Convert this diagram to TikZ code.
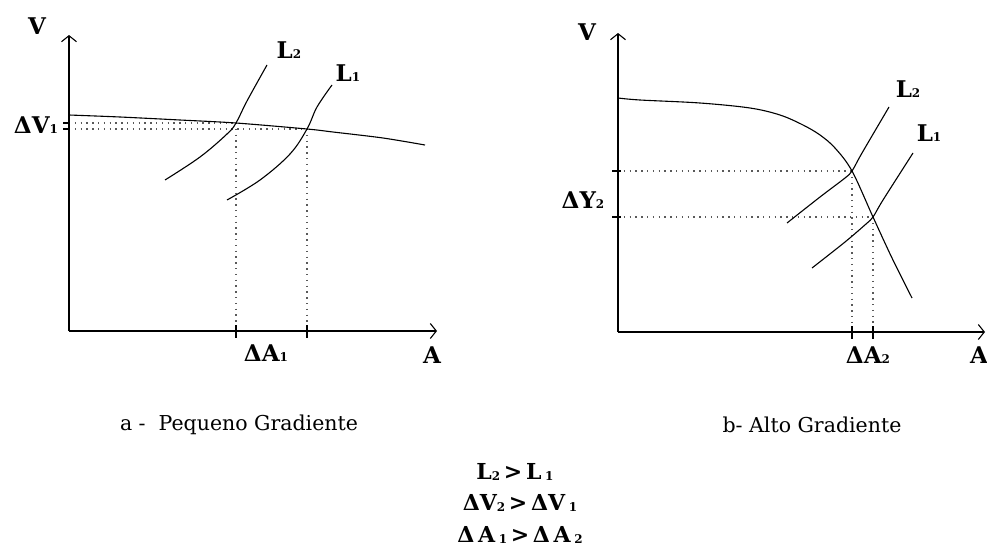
\documentclass[tikz,border=0pt]{standalone}
\usepackage{fontspec}
\setmainfont{DejaVu Serif}
\usetikzlibrary{arrows.meta}
\newcommand{\sbx}[1]{\raisebox{-0.5pt}{\fontsize{12}{12}\selectfont #1}}
\begin{document}
\begin{tikzpicture}[x=1pt,y=-1pt,
  axis/.style={line width=1.3pt,-{Straight Barb[length=6pt,width=15pt,line width=1.1pt]}},
  curve/.style={line width=1.1pt},
  guide/.style={line width=1.4pt,dash pattern=on 1.4pt off 4.4pt,black!65},
  tickmark/.style={line width=1.4pt},
  lbl/.style={font=\fontsize{23}{25}\selectfont\bfseries,inner sep=0pt},
  sumtxt/.style={font=\fontsize{22}{24}\selectfont\bfseries,inner sep=0pt},
  captxt/.style={font=\fontsize{20.5}{22}\selectfont,inner sep=0pt}]
\path[use as bounding box] (0,0) rectangle (987,549);

% ---------- left chart ----------
\coordinate (O1) at (69,331);
\coordinate (V1top) at (69,35);
\coordinate (A1end) at (437,331);
\coordinate (P2a) at (236,123);
\coordinate (P1a) at (307,129);
\coordinate (H2a) at (69,123);
\coordinate (H1a) at (69,129);
\coordinate (X2a) at (236,331);
\coordinate (X1a) at (307,331);

\draw[guide] (H2a) -- (P2a);
\draw[guide] (H1a) -- (P1a);
\draw[guide] (P2a) -- (X2a);
\draw[guide] (P1a) -- (X1a);

\draw[axis] (O1) -- (V1top);
\draw[axis] (O1) -- (A1end);

\draw[tickmark] ([yshift=6pt]X2a) -- ([yshift=-7pt]X2a);
\draw[tickmark] ([yshift=6pt]X1a) -- ([yshift=-7pt]X1a);
\draw[tickmark] ([xshift=-6pt]H2a) -- (H2a);
\draw[tickmark] ([xshift=-6pt]H1a) -- (H1a);

\draw[curve] plot[smooth,tension=0.5] coordinates
  {(69,115) (120,117) (180,120) (236,123) (307,129) (333,132) (383,138) (425,145)};
\draw[curve] plot[smooth,tension=0.6] coordinates
  {(165,180) (200,157) (227,134) (236,123) (247,101) (267,65)};
\draw[curve] plot[smooth,tension=0.6] coordinates
  {(227,200) (260,180) (290,154) (307,129) (317,107) (332,85)};

\node[lbl] (Vl) at (37,26) {V};
\node[lbl] (L2l) at (289,50) {L\sbx{2}};
\node[lbl] (L1l) at (348,73) {L\sbx{1}};
\node[lbl] (dV1) at (36,125) {ΔV\sbx{1}};
\node[lbl] (dA1) at (266,353) {ΔA\sbx{1}};
\node[lbl] (Al) at (432,355) {A};
\node[captxt] (capa) at (239,425) {a -\ \ Pequeno Gradiente};

% ---------- right chart ----------
\coordinate (O2) at (618,332);
\coordinate (V2top) at (618,33);
\coordinate (A2end) at (985,332);
\coordinate (P2b) at (852,171);
\coordinate (P1b) at (873,217);
\coordinate (H2b) at (618,171);
\coordinate (H1b) at (618,217);
\coordinate (X2b) at (852,332);
\coordinate (X1b) at (873,332);

\draw[guide] (H2b) -- (P2b);
\draw[guide] (H1b) -- (P1b);
\draw[guide] (P2b) -- (X2b);
\draw[guide] (P1b) -- (X1b);

\draw[axis] (O2) -- (V2top);
\draw[axis] (O2) -- (A2end);

\draw[tickmark] ([yshift=6pt]X2b) -- ([yshift=-7pt]X2b);
\draw[tickmark] ([yshift=6pt]X1b) -- ([yshift=-7pt]X1b);
\draw[tickmark] ([xshift=-6pt]H2b) -- ([xshift=3pt]H2b);
\draw[tickmark] ([xshift=-6pt]H1b) -- ([xshift=3pt]H1b);

\draw[curve] plot[smooth,tension=0.55] coordinates
  {(618,98) (640,100) (700,103) (750,108) (780,115) (803,125) (820,135) (835,148) (852,171) (873,217) (892,258) (912,298)};
\draw[curve] plot[smooth,tension=0.5] coordinates
  {(787,223) (820,197) (845,178) (852,171) (862,153) (889,107)};
\draw[curve] plot[smooth,tension=0.5] coordinates
  {(812,268) (845,242) (866,224) (873,217) (883,200) (913,153)};

\node[lbl] (Vr) at (587,32) {V};
\node[lbl] (L2r) at (908,89) {L\sbx{2}};
\node[lbl] (L1r) at (929,133) {L\sbx{1}};
\node[lbl] (dV2) at (583,200) {ΔY\sbx{2}};
\node[lbl] (dA2) at (868,355) {ΔA\sbx{2}};
\node[lbl] (Ar) at (979,355) {A};
\node[captxt] (capb) at (812,425) {b- Alto Gradiente};

% ---------- summary ----------
\node[sumtxt] (s1) at (515,472) {L\sbx{2}\,>\,L\,\sbx{1}};
\node[sumtxt] (s2) at (520,503) {ΔV\sbx{2}\,>\,ΔV\,\sbx{1}};
\node[sumtxt] (s3) at (520,535) {Δ\,A\,\sbx{1}\,>\,Δ\,A\,\sbx{2}};
\end{tikzpicture}
\end{document}
